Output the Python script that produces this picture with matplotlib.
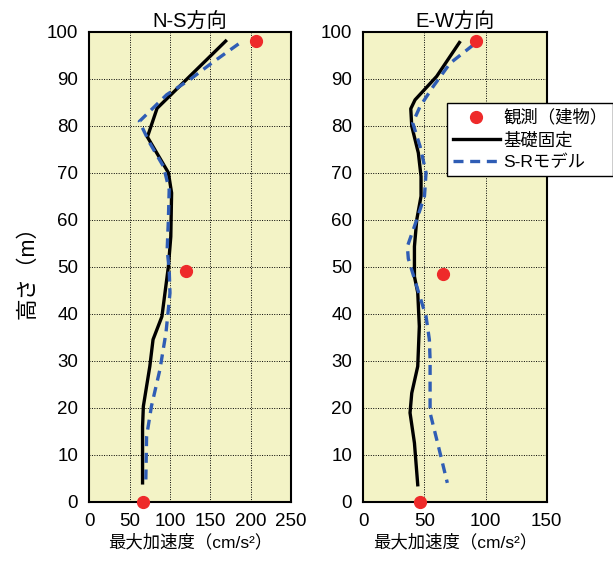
import matplotlib.pyplot as plt
from matplotlib.lines import Line2D

plt.rcParams['font.family'] = ['Liberation Sans', 'Noto Sans CJK JP', 'DejaVu Sans']

# observed (building)
ns_obs_a = [207, 120, 66]
ns_obs_h = [98, 49, 0]
ew_obs_a = [92, 65, 46]
ew_obs_h = [98, 48.5, 0]

# fixed-base model
ns_fix_h = [98, 83.7, 77.6, 70, 65.7, 56.4, 50, 39.4, 34.5, 28.8, 20.3, 16, 4]
ns_fix_a = [169, 84, 72, 98, 102, 101, 98, 90, 79, 75, 67, 66, 66]
ew_fix_h = [97.7, 90.5, 85.5, 83.6, 79.9, 74.2, 69.2, 65, 60, 54.3, 47.9, 44.5,
            37.3, 28.8, 23.1, 18.9, 12.5, 3.6]
ew_fix_a = [78.6, 60, 42.3, 38.8, 39.6, 45, 47.2, 47.2, 43.7, 41.8, 41.8, 44.5,
            45.8, 44.5, 39.6, 38.2, 41.8, 44.5]

# S-R model
ns_sr_h = [97.4, 93.3, 89.8, 86.6, 80.9, 76.3, 71.3, 66.4, 60, 53.6, 49.4, 44.4,
           35.9, 28.1, 20.3, 13.9, 4]
ns_sr_a = [185, 151.5, 124.6, 96, 62, 75, 92, 99, 98, 96.5, 99, 100,
           95, 87.5, 77, 71, 70]
ew_sr_h = [97.2, 93.3, 88.4, 84.1, 80.6, 75.6, 70, 65, 60, 54.3, 51.7, 45.8,
           39.4, 34.5, 30.2, 18.9, 11.8, 4]
ew_sr_a = [90, 71, 57.3, 46.4, 40.4, 46.4, 51.3, 50, 43.7, 36, 36.8, 43.7,
           51.3, 54, 54.6, 54.6, 61.4, 68.7]

red = '#ee2a2a'
blue = '#2f5db5'
bg = '#f3f3c6'

fig = plt.figure(figsize=(6.13, 5.63), dpi=100)
ax1 = fig.add_axes([0.1457, 0.1089, 0.329, 0.8348])
ax2 = fig.add_axes([0.5927, 0.1089, 0.2992, 0.8348])

panels = [
    (ax1, 'N-S方向', 250, ns_obs_a, ns_obs_h, ns_fix_a, ns_fix_h, ns_sr_a, ns_sr_h),
    (ax2, 'E-W方向', 150, ew_obs_a, ew_obs_h, ew_fix_a, ew_fix_h, ew_sr_a, ew_sr_h),
]

for ax, title, xmax, oa, oh, fa, fh, sa, sh in panels:
    ax.set_facecolor(bg)
    ax.plot(fa, fh, color='black', lw=2.4, zorder=3)
    ax.plot(sa, sh, color=blue, lw=2.4, ls=(0, (3, 2)), zorder=3)
    ax.plot(oa, oh, 'o', color=red, ms=8.5, clip_on=False, zorder=5)
    ax.set_xlim(0, xmax)
    ax.set_ylim(0, 100)
    ax.set_xticks(range(0, xmax + 1, 50))
    ax.set_yticks(range(0, 101, 10))
    ax.grid(True, color='black', ls=(0, (1, 1.5)), lw=0.7)
    ax.set_axisbelow(True)
    ax.tick_params(length=0, labelsize=13.5, pad=8)
    for s in ax.spines.values():
        s.set_linewidth(1.5)
    ax.set_title(title, fontsize=14.5, pad=3)
    ax.set_xlabel('最大加速度（cm/s²）', fontsize=12.5, labelpad=3)

ax1.set_ylabel('高さ（m）', fontsize=15.5, labelpad=6)

handles = [
    Line2D([], [], marker='o', color=red, ls='none', ms=8.5),
    Line2D([], [], color='black', lw=2.4),
    Line2D([], [], color=blue, lw=2.4, ls=(0, (3, 2))),
]
labels = ['観測（建物）', '基礎固定', 'S-Rモデル']
leg = fig.legend(handles, labels, loc='upper left', bbox_to_anchor=(0.7287, 0.817),
                 fontsize=12.5, frameon=True, fancybox=False, edgecolor='black',
                 framealpha=1, handlelength=2.7, handletextpad=0.2,
                 borderpad=0.35, labelspacing=0.35, borderaxespad=0)
leg.get_frame().set_linewidth(1.0)

fig.savefig('out.png', dpi=100)
